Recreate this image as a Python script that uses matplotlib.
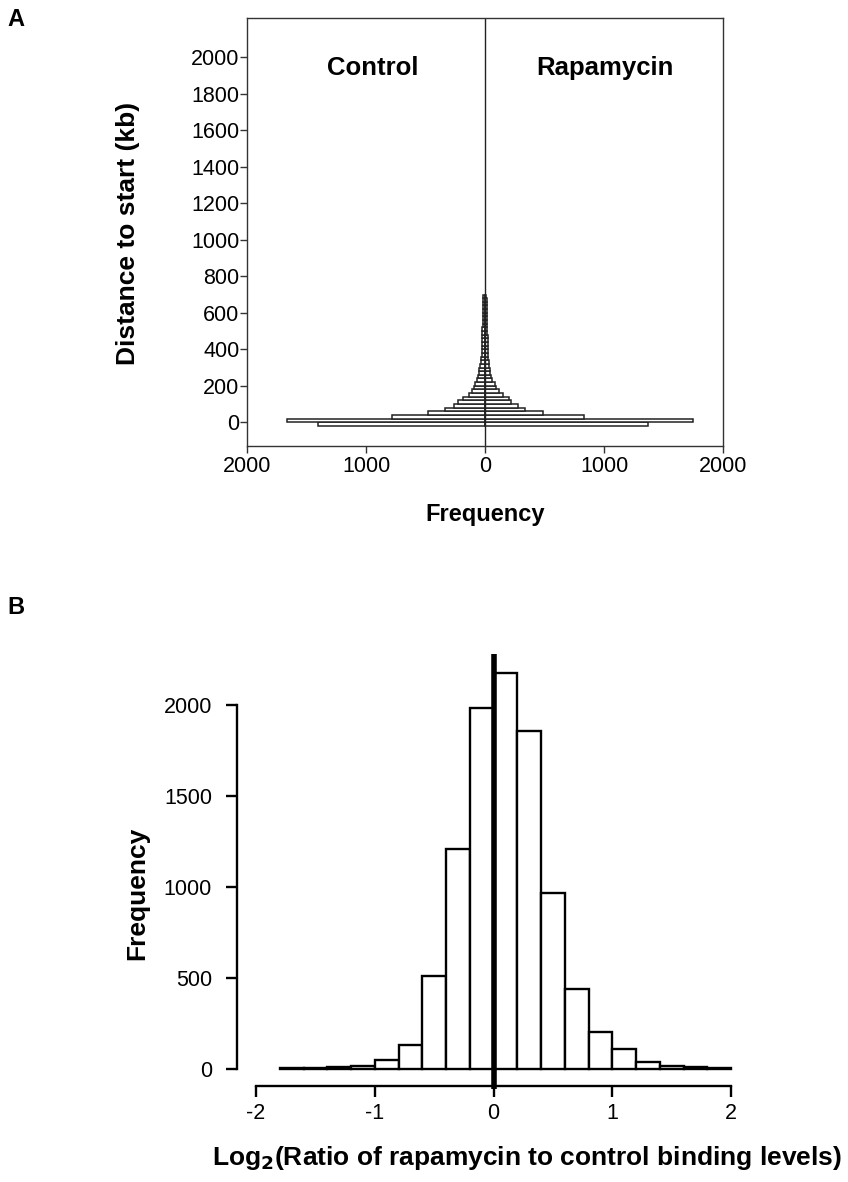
import numpy as np
import matplotlib
matplotlib.use("Agg")
import matplotlib.pyplot as plt

plt.rcParams['font.family'] = ['Liberation Sans', 'DejaVu Sans']
plt.rcParams['axes.unicode_minus'] = False

# ---------------------------------------------------------
# Data
# ---------------------------------------------------------
# Panel A: distance to start (kb), 20 kb bins (lower edges)
dist_bins = np.arange(-20, 700, 20)
control_freq = [1400, 1665, 780, 475, 333, 258, 228, 188, 137, 109,
                90, 85, 70, 55, 52, 48, 42, 34, 31, 28,
                27, 26, 25, 24, 24, 22, 22, 21, 20, 20,
                19, 18, 18, 17, 16, 14]
rapa_freq = [1370, 1750, 828, 485, 340, 280, 218, 200, 148, 120,
             95, 85, 62, 50, 45, 39, 36, 31, 27, 25,
             24, 24, 25, 22, 22, 21, 20, 20, 19, 18,
             18, 17, 16, 15, 14, 12]
a_xticks = [-2000, -1000, 0, 1000, 2000]
a_xticklabels = ['2000', '1000', '0', '1000', '2000']
a_yticks = np.arange(0, 2001, 200)

# Panel B: log2 ratio histogram, 0.2 bins (lower edges)
ratio_bins = np.round(np.arange(-1.8, 2.0, 0.2), 2)
ratio_freq = [5, 3, 8, 15, 50, 130, 510, 1210, 1985, 2180,
              1860, 970, 440, 200, 110, 36, 16, 10, 3]
b_xticks = [-2, -1, 0, 1, 2]
b_yticks = [0, 500, 1000, 1500, 2000]

W, H = 848, 1182
fig = plt.figure(figsize=(W / 100, H / 100), dpi=100)

def frac(left, top, right, bottom):
    return [left / W, 1 - bottom / H, (right - left) / W, (bottom - top) / H]

# ---------------------------------------------------------
# Panel A
# ---------------------------------------------------------
ax1 = fig.add_axes(frac(247, 18, 723, 446))
ax1.barh(dist_bins, [-v for v in control_freq], height=20, align='edge',
         color='white', edgecolor='#222222', linewidth=1.1)
ax1.barh(dist_bins, rapa_freq, height=20, align='edge',
         color='white', edgecolor='#222222', linewidth=1.1)
ax1.axvline(0, color='#222222', linewidth=1.0)
ax1.set_xlim(-2000, 2000)
ax1.set_ylim(-130, 2215)
ax1.set_xticks(a_xticks)
ax1.set_xticklabels(a_xticklabels)
ax1.set_yticks(a_yticks)
ax1.tick_params(axis='both', labelsize=15.5, length=5, width=1, direction='out',
                color='#333333', pad=2)
ax1.tick_params(axis='y', pad=0.5)
for s in ax1.spines.values():
    s.set_linewidth(1.0)
    s.set_color('#333333')
ax1.text(-940, 1940, 'Control', fontsize=18.5, fontweight='bold', ha='center', va='center')
ax1.text(1010, 1940, 'Rapamycin', fontsize=18.5, fontweight='bold', ha='center', va='center')

fig.text(128 / W, 1 - 233 / H, 'Distance to start (kb)', rotation=90, fontsize=19,
         fontweight='bold', ha='center', va='center')
fig.text(485 / W, 1 - 515 / H, 'Frequency', fontsize=17, fontweight='bold',
         ha='center', va='center')

# ---------------------------------------------------------
# Panel B
# ---------------------------------------------------------
ax2 = fig.add_axes(frac(237, 651, 737, 1086))
ax2.bar(ratio_bins, ratio_freq, width=0.2, align='edge',
        color='white', edgecolor='black', linewidth=1.7)
ax2.plot([0, 0], [-110, 2285], color='black', linewidth=4, clip_on=False,
         solid_capstyle='butt', zorder=5)
ax2.set_xlim(-2.16, 2.05)
ax2.set_ylim(-95, 2300)
ax2.set_xticks(b_xticks)
ax2.set_yticks(b_yticks)
ax2.spines['top'].set_visible(False)
ax2.spines['right'].set_visible(False)
ax2.spines['left'].set_bounds(0, 2000)
ax2.spines['bottom'].set_bounds(-2, 2)
for s in ('left', 'bottom'):
    ax2.spines[s].set_linewidth(1.7)
ax2.tick_params(axis='both', labelsize=15.5, length=8, width=1.7, direction='out', pad=4)
ax2.tick_params(axis='y', pad=10)

fig.text(137 / W, 1 - 893 / H, 'Frequency', rotation=90, fontsize=19,
         fontweight='bold', ha='center', va='center')
fig.text(527 / W, 1 - 1158 / H, 'Log$_\\mathbf{2}$(Ratio of rapamycin to control binding levels)',
         fontsize=19, fontweight='bold', ha='center', va='center')

# panel letters
fig.text(16 / W, 1 - 20 / H, 'A', fontsize=17, fontweight='bold', ha='center', va='center')
fig.text(16 / W, 1 - 607 / H, 'B', fontsize=17, fontweight='bold', ha='center', va='center')

fig.savefig('out.png', dpi=100)
